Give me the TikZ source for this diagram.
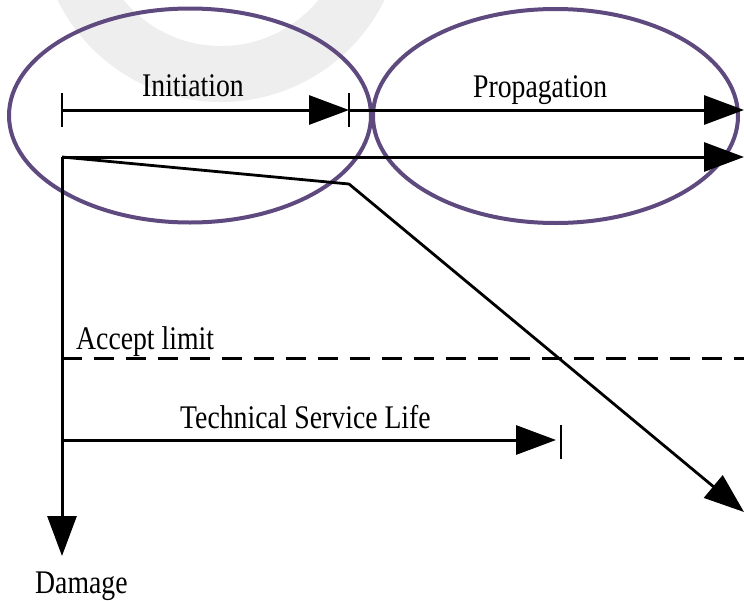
\documentclass[tikz,border=0pt]{standalone}
\usepackage{fontspec}
\setmainfont{Liberation Serif}[FakeStretch=0.84]
\usetikzlibrary{arrows.meta}

\definecolor{phasecol}{RGB}{94,74,126}
\definecolor{ringgrey}{RGB}{238,238,238}

\tikzset{
    lbl/.style={anchor=base west, inner sep=0pt, font=\fontsize{33}{36}\selectfont},
    bigtip/.style={-{Triangle[length=40pt,width=29pt]}},
    axisline/.style={line width=3pt, bigtip},
    tickline/.style={line width=2.2pt},
    phase/.style={draw=phasecol, line width=4pt},
    limitline/.style={line width=3pt, dash pattern=on 20pt off 12pt},
}

\begin{document}
\begin{tikzpicture}[x=1pt, y=-1pt]
    \useasboundingbox (0,0) rectangle (744,600);

    % faint ring in the back
    \begin{scope}
        \clip (0,0) rectangle (744,600);
        \fill[ringgrey, even odd rule] (221,-80) circle[radius=182] (221,-80) circle[radius=126];
    \end{scope}

    % points of the axes and bars
    \coordinate (O) at (62,157);
    \coordinate (tend) at (744,157);
    \coordinate (dend) at (62,556);
    \coordinate (iA) at (62,110);
    \coordinate (iB) at (349,110);
    \coordinate (pB) at (744,110);
    \coordinate (knee) at (349,184);
    \coordinate (cend) at (744,512);
    \coordinate (lA) at (62,358);
    \coordinate (lB) at (744,358);
    \coordinate (sA) at (62,440);
    \coordinate (sB) at (556,440);

    % the two phases
    \draw[phase] (190,115.5) ellipse[x radius=181, y radius=107];
    \draw[phase] (555.5,116) ellipse[x radius=182.5, y radius=107];

    % time and damage axes
    \draw[axisline] (O) -- (tend);
    \draw[axisline] (O) -- (dend);

    % phase bars
    \draw[axisline] (iA) -- (iB);
    \draw[axisline] (iB) -- (pB);
    \foreach \x in {62, 349}
        \draw[tickline] (\x,93) -- (\x,127);

    % damage development
    \draw[line width=2.8pt, line join=round, bigtip] (O) -- (knee) -- (cend);

    % acceptance limit
    \draw[limitline] (lA) -- (lB);

    % service life
    \draw[axisline] (sA) -- (sB);
    \draw[tickline] (561,425) -- (561,459);

    \node[lbl] (initlbl) at (142,96) {Initiation};
    \node[lbl] (proplbl) at (473,97) {Propagation};
    \node[lbl] (limlbl) at (76,349) {Accept limit};
    \node[lbl] (lifelbl) at (180,428) {Technical Service Life};
    \node[lbl] (damlbl) at (35,593) {Damage};
\end{tikzpicture}
\end{document}
